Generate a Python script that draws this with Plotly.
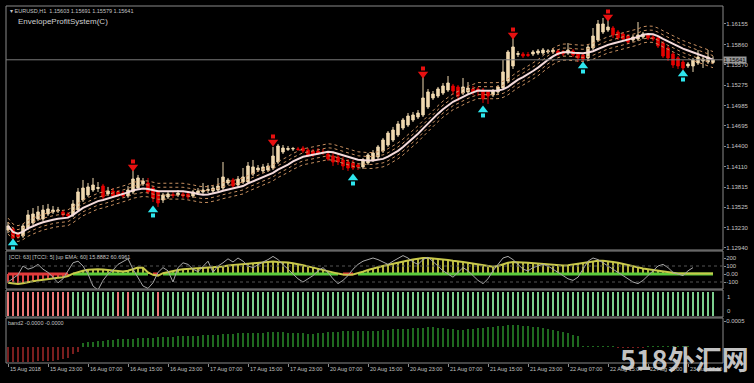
import plotly.graph_objects as go

# ---------------- data ----------------
opens = [1.13198,1.13213,1.13141,1.13112,1.13227,1.13299,1.13356,1.13356,1.13428,1.13457,
1.13471,1.13457,1.13428,1.13414,1.13485,1.13629,1.13701,1.13772,1.13794,1.13830,
1.13715,1.13758,1.13744,1.13729,1.13686,1.13744,1.13801,1.13859,1.13873,1.13801,
1.13744,1.13629,1.13672,1.13708,1.13701,1.13715,1.13715,1.13686,1.13729,1.13744,
1.13765,1.13758,1.13772,1.13801,1.13873,1.13916,1.13844,1.13887,1.13887,1.14002,
1.14059,1.14045,1.14059,1.14088,1.14174,1.14318,1.14354,1.14361,1.14361,1.14375,
1.14346,1.14332,1.14332,1.14318,1.14289,1.14260,1.14246,1.14203,1.14174,1.14160,
1.14131,1.14103,1.14160,1.14203,1.14246,1.14332,1.14418,1.14490,1.14562,1.14662,
1.14705,1.14777,1.14820,1.14849,1.14964,1.15093,1.15121,1.15164,1.15207,1.15265,
1.15251,1.15164,1.15179,1.15222,1.15222,1.15207,1.15179,1.15136,1.15179,1.15236,
1.15337,1.15552,1.15717,1.15724,1.15717,1.15724,1.15738,1.15738,1.15753,1.15753,
1.15767,1.15753,1.15738,1.15767,1.15724,1.15710,1.15667,1.15810,1.15925,1.16040,
1.16068,1.16097,1.16040,1.16011,1.15982,1.15925,1.15939,1.15968,1.15997,1.15968,
1.15954,1.15882,1.15810,1.15724,1.15667,1.15609,1.15552,1.15552,1.15595,1.15624,
1.15609,1.15603]
highs = [1.13313,1.13242,1.13170,1.13285,1.13485,1.13514,1.13543,1.13557,1.13572,1.13543,
1.13529,1.13485,1.13457,1.13629,1.13801,1.13916,1.13873,1.13945,1.13887,1.13859,
1.13816,1.13801,1.13772,1.13758,1.13830,1.14059,1.13988,1.13945,1.13945,1.13830,
1.13772,1.13729,1.13758,1.13744,1.13772,1.13744,1.13744,1.13772,1.13801,1.13873,
1.13844,1.13830,1.13945,1.14174,1.13945,1.13945,1.13973,1.14088,1.14174,1.14203,
1.14131,1.14146,1.14160,1.14390,1.14433,1.14418,1.14404,1.14390,1.14390,1.14404,
1.14375,1.14361,1.14375,1.14361,1.14332,1.14303,1.14289,1.14246,1.14217,1.14203,
1.14160,1.14232,1.14303,1.14346,1.14418,1.14519,1.14619,1.14677,1.14763,1.14806,
1.14877,1.14892,1.14920,1.15408,1.15222,1.15193,1.15251,1.15308,1.15408,1.15294,
1.15279,1.15380,1.15322,1.15265,1.15251,1.15236,1.15207,1.15222,1.15279,1.15638,
1.15781,1.15954,1.15767,1.15753,1.15753,1.15781,1.15796,1.15810,1.15796,1.15810,
1.15796,1.15781,1.15882,1.15796,1.15753,1.15738,1.15853,1.16097,1.16212,1.16241,
1.16212,1.16126,1.16068,1.16040,1.16011,1.15997,1.16183,1.16040,1.16025,1.15997,
1.15982,1.15911,1.15839,1.15753,1.15695,1.15638,1.15609,1.15667,1.15781,1.15681,
1.15781,1.15691]
lows = [1.13155,1.13026,1.13069,1.13084,1.13198,1.13270,1.13328,1.13328,1.13399,1.13428,
1.13442,1.13385,1.13371,1.13385,1.13457,1.13600,1.13672,1.13744,1.13744,1.13643,
1.13686,1.13658,1.13672,1.13658,1.13658,1.13715,1.13772,1.13830,1.13715,1.13600,
1.13529,1.13586,1.13643,1.13658,1.13672,1.13658,1.13643,1.13658,1.13701,1.13715,
1.13729,1.13729,1.13744,1.13772,1.13844,1.13801,1.13816,1.13859,1.13859,1.13973,
1.14031,1.14016,1.14031,1.14059,1.14146,1.14289,1.14332,1.14332,1.14332,1.14303,
1.14246,1.14246,1.14275,1.14275,1.14189,1.14117,1.14131,1.14059,1.14045,1.14059,
1.14059,1.14074,1.14131,1.14174,1.14217,1.14303,1.14390,1.14461,1.14533,1.14633,
1.14677,1.14748,1.14791,1.14820,1.14935,1.15064,1.15093,1.15136,1.15179,1.15136,
1.15050,1.15136,1.15150,1.15136,1.15121,1.15021,1.15007,1.15107,1.15150,1.15207,
1.15308,1.15509,1.15681,1.15667,1.15681,1.15695,1.15710,1.15710,1.15724,1.15724,
1.15695,1.15695,1.15710,1.15681,1.15609,1.15609,1.15624,1.15781,1.15896,1.16011,
1.16040,1.15954,1.15925,1.15911,1.15868,1.15896,1.15911,1.15939,1.15925,1.15911,
1.15810,1.15667,1.15624,1.15523,1.15509,1.15480,1.15523,1.15466,1.15566,1.15523,
1.15581,1.15579]
closes = [1.13256,1.13084,1.13098,1.13256,1.13414,1.13428,1.13457,1.13485,1.13500,1.13485,
1.13485,1.13414,1.13399,1.13572,1.13744,1.13801,1.13816,1.13844,1.13808,1.13672,
1.13758,1.13686,1.13701,1.13686,1.13772,1.13930,1.13945,1.13902,1.13744,1.13658,
1.13586,1.13701,1.13715,1.13693,1.13729,1.13686,1.13672,1.13744,1.13758,1.13772,
1.13780,1.13801,1.13830,1.13959,1.13916,1.13830,1.13930,1.13959,1.14117,1.14103,
1.14088,1.14103,1.14117,1.14260,1.14404,1.14375,1.14368,1.14368,1.14354,1.14332,
1.14275,1.14289,1.14303,1.14311,1.14217,1.14174,1.14174,1.14117,1.14088,1.14088,
1.14103,1.14203,1.14275,1.14303,1.14390,1.14490,1.14590,1.14633,1.14720,1.14777,
1.14834,1.14849,1.14877,1.15093,1.15179,1.15150,1.15222,1.15265,1.15308,1.15193,
1.15121,1.15251,1.15236,1.15179,1.15193,1.15078,1.15121,1.15193,1.15251,1.15466,
1.15753,1.15825,1.15731,1.15695,1.15703,1.15753,1.15767,1.15781,1.15767,1.15781,
1.15724,1.15724,1.15781,1.15710,1.15667,1.15652,1.15825,1.15982,1.16155,1.16155,
1.16112,1.15997,1.15954,1.15939,1.15896,1.15968,1.15997,1.16011,1.15954,1.15939,
1.15839,1.15695,1.15667,1.15566,1.15552,1.15523,1.15581,1.15638,1.15681,1.15652,
1.15681,1.15641]

sell_bars = [25, 53, 83, 101, 120]
sell_prices = [1.14131, 1.14490, 1.15466, 1.16025, 1.16284]
buy_bars = [1, 29, 69, 95, 115, 135]
buy_prices = [1.12983, 1.13457, 1.13916, 1.14892, 1.15523, 1.15408]

price_ticks = [1.16155,1.15860,1.15570,1.15275,1.14985,1.14695,1.14400,1.14110,1.13815,1.13525,1.13230,1.12940]
last_price = 1.15641

time_labels = ["15 Aug 2018","15 Aug 23:00","16 Aug 07:00","16 Aug 15:00","16 Aug 23:00",
"17 Aug 07:00","17 Aug 15:00","17 Aug 23:00","20 Aug 07:00","20 Aug 15:00","20 Aug 23:00",
"21 Aug 07:00","21 Aug 15:00","21 Aug 23:00","22 Aug 07:00","22 Aug 15:00","22 Aug 23:00","23 Aug 07:00"]
time_label_bars = [0,8,16,24,32,40,48,56,64,72,80,88,96,104,112,120,128,136]

cci_slow = [-110,-120,-125,-115,-100,-90,-80,-70,-62,-55,-48,-40,-25,
5,25,40,52,58,60,56,50,45,38,32,
40,60,80,78,
20,-10,-20,
10,25,40,50,58,62,65,68,72,75,80,85,95,105,110,115,120,128,135,140,
145,150,155,150,150,145,135,125,110,95,80,60,45,30,15,
5,-5,-10,-5,10,
30,50,70,85,100,115,130,145,160,170,180,190,200,200,195,190,180,175,165,160,
150,140,130,120,105,95,90,100,120,140,
150,150,145,140,135,130,125,120,115,110,105,110,120,130,140,
150,160,165,165,160,150,140,125,110,95,
80,70,60,50,40,30,20,10,5,5,5,5,5,5,5,5]
cci_fast = [-100,-60,-10,100,60,80,120,60,20,-40,-110,-60,40,
140,160,100,0,-150,-200,-80,0,50,120,160,190,60,-40,-150,
-180,-110,20,80,40,-100,80,140,120,60,30,100,160,20,100,140,190,
150,200,160,100,80,120,150,180,220,180,120,60,0,-60,-100,
-60,-20,40,80,20,-60,-120,-80,-20,60,120,160,180,200,180,150,
120,160,200,230,200,150,120,180,210,160,100,40,0,-40,20,
80,40,-20,-80,-120,-60,40,120,200,220,180,120,60,40,80,
100,120,100,60,20,-20,-60,-80,-40,60,160,200,180,140,100,
60,20,-20,-60,-100,-120,-80,-20,40,100,120,80,20,0,-20,40,80]
cci_levels = [200, 100, 0, -100]
signal_state = [0,0,0,0,0,0,0,0,0,0,0,0,0,
1,1,1,1,1,1,1,1,1,0,1,0,1,1,1,1,1,0,
1,1,1,1,1,1,1,1,1,1,1,1,1,1,1,1,1,1,1,1,1,1,1,1,1,1,1,1,1,1,
1,1,1,1,1,1,1,1,1,1,1,1,1,1,1,1,1,1,1,1,1,1,1,1,1,1,1,1,1,1,
1,1,1,1,1,1,1,1,1,1,1,1,1,1,1,1,1,1,1,1,1,1,1,1,1,1,1,1,1,1,
1,1,1,1,1,1,1,1,1,1,1,1,1,1,1,1,1,1,1,1,1]
band2 = [-0.00028,-0.00029,-0.00029,-0.00029,-0.00028,-0.00028,-0.00027,-0.00027,-0.00026,-0.00026,
-0.00025,-0.00024,-0.00022,-0.00014,-0.00010,
0.00008,0.00009,0.00010,0.00012,0.00012,0.00013,0.00014,0.00015,0.00015,0.00016,
0.00016,0.00017,0.00017,0.00018,0.00018,0.00019,0.00019,0.00020,0.00020,0.00021,
0.00021,0.00022,0.00022,0.00022,0.00023,0.00023,0.00024,0.00024,0.00025,0.00025,
0.00025,0.00026,0.00026,0.00026,0.00027,0.00027,0.00027,0.00028,0.00028,0.00028,
0.00028,0.00027,0.00027,0.00026,0.00026,0.00025,0.00025,0.00026,0.00027,0.00028,
0.00029,0.00029,0.00030,0.00030,0.00031,0.00031,0.00031,0.00030,0.00030,0.00031,
0.00032,0.00033,0.00034,0.00034,0.00035,0.00035,0.00036,0.00036,0.00037,0.00038,
0.00038,0.00037,0.00036,0.00035,0.00034,0.00033,0.00033,0.00034,0.00035,0.00036,
0.00037,0.00038,0.00039,0.00040,0.00041,0.00042,0.00042,0.00042,0.00041,0.00040,
0.00039,0.00038,0.00036,0.00034,0.00032,0.00030,0.00028,0.00026,0.00024,0.00022,
0.00002,0.00002,0.00002,0.00002,0.00002,0.00002,0.00002,-0.00002,-0.00002,-0.00002,
-0.00002,-0.00002,-0.00001,0.00001,0.00001,0.00001,0.00001,0.00001,0.00001,0.00001,
0.00001,0.00001]

ma_period = 12
env_pct = [0.0005, 0.0010]

# ---------------- derived ----------------
n = len(closes)
idx = list(range(n))
ma = []
for i in range(n):
    w = closes[max(0, i - ma_period + 1): i + 1]
    ma.append(sum(w) / len(w))

W, H = 754, 383
def px_x(p): return p / W
def py(p): return 1 - p / H

X0, X1 = 6, 723
xr = [(X0 - 8) / 5, (X1 - 8) / 5]
xdom = [px_x(X0), px_x(X1)]
main_px = (6, 250); cci_px = (251, 289); sig_px = (290, 317); band_px = (318, 363)
main_rng = [1.12911, 1.16413]
ppp = (main_px[1] - main_px[0]) / (main_rng[1] - main_rng[0])  # pixels per price unit

BG = "#000000"
AXC = "#8a8a8a"
TXT = "#c4c4c4"
FONT = "Liberation Sans"

fig = go.Figure()

for k, pct in enumerate(env_pct):
    for sgn in (1, -1):
        fig.add_trace(go.Scatter(x=idx, y=[m * (1 + sgn * pct) for m in ma], mode="lines",
                                 line=dict(color="#c89060", width=1, dash="dot"),
                                 xaxis="x", yaxis="y", hoverinfo="skip", showlegend=False))
fig.add_trace(go.Scatter(x=idx, y=ma, mode="lines", line=dict(color="#f4dada", width=2),
                         xaxis="x", yaxis="y", hoverinfo="skip", showlegend=False))

fig.add_trace(go.Candlestick(x=idx, open=opens, high=highs, low=lows, close=closes,
                             increasing=dict(line=dict(color="#f0d9b0", width=1), fillcolor="#f0d9b0"),
                             decreasing=dict(line=dict(color="#e60000", width=1), fillcolor="#e60000"),
                             whiskerwidth=0, xaxis="x", yaxis="y", showlegend=False, hoverinfo="skip"))

off = 1 / ppp
fig.add_trace(go.Scatter(x=sell_bars, y=[p - 2 * off for p in sell_prices], mode="markers",
                         marker=dict(symbol="triangle-down", size=9, color="#e81010"),
                         xaxis="x", yaxis="y", hoverinfo="skip", showlegend=False))
fig.add_trace(go.Scatter(x=sell_bars, y=[p + 3.5 * off for p in sell_prices], mode="markers",
                         marker=dict(symbol="square", size=4, color="#e81010"),
                         xaxis="x", yaxis="y", hoverinfo="skip", showlegend=False))
fig.add_trace(go.Scatter(x=buy_bars, y=[p + 2 * off for p in buy_prices], mode="markers",
                         marker=dict(symbol="triangle-up", size=9, color="#2ee6ee"),
                         xaxis="x", yaxis="y", hoverinfo="skip", showlegend=False))
fig.add_trace(go.Scatter(x=buy_bars, y=[p - 3.5 * off for p in buy_prices], mode="markers",
                         marker=dict(symbol="square", size=4, color="#2ee6ee"),
                         xaxis="x", yaxis="y", hoverinfo="skip", showlegend=False))

fig.add_trace(go.Bar(x=idx, y=cci_slow, width=0.28,
                     marker=dict(color=["#b4b43c" if v >= 0 else "#d84040" for v in cci_slow], line=dict(width=0)),
                     xaxis="x2", yaxis="y2", hoverinfo="skip", showlegend=False))
fig.add_trace(go.Scatter(x=idx, y=[0 if v < 0 else None for v in cci_slow], mode="lines",
                         line=dict(color="#e03a3a", width=3), connectgaps=False,
                         xaxis="x2", yaxis="y2", hoverinfo="skip", showlegend=False))
fig.add_trace(go.Scatter(x=idx, y=[0 if v >= 0 else None for v in cci_slow], mode="lines",
                         line=dict(color="#5ccc3c", width=3), connectgaps=False,
                         xaxis="x2", yaxis="y2", hoverinfo="skip", showlegend=False))
fig.add_trace(go.Scatter(x=idx, y=cci_slow, mode="lines", line=dict(color="#c8c84a", width=2),
                         xaxis="x2", yaxis="y2", hoverinfo="skip", showlegend=False))
fig.add_trace(go.Scatter(x=idx, y=cci_fast, mode="lines", line=dict(color="#a8a8a8", width=1),
                         xaxis="x2", yaxis="y2", hoverinfo="skip", showlegend=False))

fig.add_trace(go.Bar(x=idx, y=[1] * n, width=0.45,
                     marker=dict(color=["#7ccf8e" if s else "#ee7a78" for s in signal_state], line=dict(width=0)),
                     xaxis="x3", yaxis="y3", hoverinfo="skip", showlegend=False))

fig.add_trace(go.Bar(x=idx, y=band2, width=0.22,
                     marker=dict(color=["#1f6a1f" if v >= 0 else "#7a1e1e" for v in band2], line=dict(width=0)),
                     xaxis="x4", yaxis="y4", hoverinfo="skip", showlegend=False))

def xax(anchor, ticks=False):
    d = dict(domain=xdom, range=xr, anchor=anchor, showgrid=False, zeroline=False,
             showticklabels=False, showline=False, fixedrange=True)
    if ticks:
        d.update(ticks="outside", ticklen=3, tickcolor=AXC, tickvals=time_label_bars)
    return d

def yax(dom_px, rng, **kw):
    d = dict(domain=[py(dom_px[1]), py(dom_px[0])], range=rng, side="right", showgrid=False,
             zeroline=False, showline=False, ticks="outside", ticklen=2, tickcolor=AXC,
             ticklabelstandoff=-1,
             tickfont=dict(family=FONT, size=6, color=TXT), anchor=kw.pop("anchor"), fixedrange=True)
    d.update(kw)
    return d

fig.update_layout(
    width=W, height=H, margin=dict(l=0, r=0, t=0, b=0),
    paper_bgcolor=BG, plot_bgcolor=BG, showlegend=False, bargap=0,
    xaxis=dict(xax("y"), rangeslider=dict(visible=False)),
    xaxis2=xax("y2"), xaxis3=xax("y3"), xaxis4=xax("y4", ticks=True),
    yaxis=yax(main_px, main_rng, anchor="x", tickvals=price_ticks,
              ticktext=[f"{v:.5f}" for v in price_ticks]),
    yaxis2=yax(cci_px, [-187.5, 287.5], anchor="x2", tickvals=cci_levels,
               ticktext=["200", "100", "0.00", "-100"]),
    yaxis3=yax(sig_px, [-1 / 24, 1 + 2 / 24], anchor="x3", showticklabels=False, ticks=""),
    yaxis4=yax(band_px, [-0.0005 * 16 / 26, 0.0005 * 29 / 26], anchor="x4", tickvals=[0.0005],
               ticktext=["0.0005"]),
)

shapes = []
for (a, b) in (main_px, cci_px, sig_px, band_px):
    shapes.append(dict(type="rect", xref="paper", yref="paper", x0=px_x(X0), x1=px_x(X1),
                       y0=py(b), y1=py(a), line=dict(color=AXC, width=1)))
shapes.append(dict(type="line", xref="paper", yref="y", x0=px_x(X0), x1=px_x(X1),
                   y0=last_price, y1=last_price, line=dict(color="#7a7a7a", width=1)))
for lv in (100, -100):
    shapes.append(dict(type="line", xref="paper", yref="y2", x0=px_x(X0), x1=px_x(X1),
                       y0=lv, y1=lv, line=dict(color="#555555", width=1, dash="dot")))
fig.update_layout(shapes=shapes)

ann = []
ann.append(dict(xref="paper", yref="paper", x=px_x(8), y=py(11), xanchor="left", yanchor="middle",
                text="▾ EURUSD,H1  1.15603 1.15691 1.15579 1.15641", showarrow=False,
                font=dict(family=FONT, size=5.5, color=TXT)))
ann.append(dict(xref="paper", yref="paper", x=px_x(16), y=py(22), xanchor="left", yanchor="middle",
                text="EnvelopeProfitSystem(C)", showarrow=False,
                font=dict(family=FONT, size=8, color="#cfcfcf")))
ann.append(dict(xref="paper", yref="y", x=px_x(X1), y=last_price, xanchor="left", yanchor="middle",
                text="1.15641", showarrow=False, bgcolor="#9a9a9a", borderpad=0,
                font=dict(family=FONT, size=6, color="#000000")))
ann.append(dict(xref="paper", yref="paper", x=px_x(7), y=py(257), xanchor="left", yanchor="middle",
                text="[CCI: 63] [TCCI: 5] [up EMA: 60] 15.8882 60.6961", showarrow=False,
                font=dict(family=FONT, size=5.5, color=TXT)))
ann.append(dict(xref="paper", yref="paper", x=px_x(6), y=py(323), xanchor="left", yanchor="middle",
                text="band2 -0.0000 -0.0000", showarrow=False,
                font=dict(family=FONT, size=5.5, color=TXT)))
ann.append(dict(xref="paper", yref="paper", x=px_x(725), y=py(297), xanchor="left", yanchor="middle",
                text="1", showarrow=False, font=dict(family=FONT, size=6, color=TXT)))
ann.append(dict(xref="paper", yref="paper", x=px_x(725), y=py(311), xanchor="left", yanchor="middle",
                text="0", showarrow=False, font=dict(family=FONT, size=6, color=TXT)))
for b, t in zip(time_label_bars, time_labels):
    ann.append(dict(xref="x4", yref="paper", x=b, y=py(369), xanchor="left", yanchor="middle",
                    text=t, showarrow=False, font=dict(family=FONT, size=5.5, color=TXT)))
ann.append(dict(xref="paper", yref="paper", x=px_x(684), y=py(358), xanchor="center", yanchor="middle",
                text="<b>518外汇网</b>", showarrow=False,
                font=dict(family="Noto Sans CJK SC", size=27, color="rgba(215,215,215,0.92)")))
fig.update_layout(annotations=ann)

fig.write_html("out.html", config={"responsive": False, "displayModeBar": False, "staticPlot": True},
               post_script="document.body.style.margin='0';document.body.style.background='#000';")
